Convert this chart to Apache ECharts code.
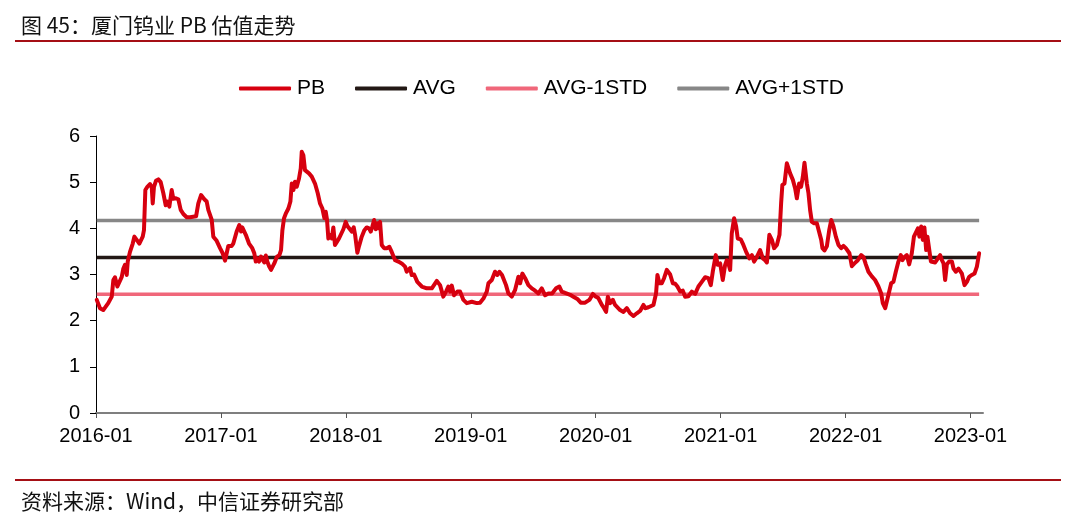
<!DOCTYPE html>
<html>
<head>
<meta charset="utf-8">
<script src="https://cdn.jsdelivr.net/npm/echarts@6/dist/echarts.min.js"></script>
<style>
html,body{margin:0;padding:0;background:#fff;}
#chart{width:1079px;height:522px;}
</style>
</head>
<body>
<div id="chart"></div>
<script>
// Time in decimal years
const years = [
2016.006,2016.032,2016.058,2016.098,2016.126,2016.139,2016.152,2016.171,2016.206,2016.219,
2016.232,2016.246,2016.254,2016.272,2016.294,2016.307,2016.326,2016.347,2016.374,2016.384,
2016.395,2016.411,2016.432,2016.446,2016.454,2016.464,2016.480,2016.499,2016.518,2016.539,
2016.558,2016.571,2016.587,2016.606,2016.619,2016.640,2016.659,2016.678,2016.699,2016.726,
2016.753,2016.801,2016.819,2016.841,2016.867,2016.886,2016.899,2016.913,2016.926,2016.939,
2016.966,2016.993,2017.014,2017.033,2017.046,2017.059,2017.086,2017.099,2017.126,2017.147,
2017.161,2017.171,2017.187,2017.199,2017.215,2017.225,2017.241,2017.251,2017.267,2017.279,
2017.295,2017.305,2017.321,2017.331,2017.347,2017.359,2017.371,2017.387,2017.401,2017.415,
2017.427,2017.447,2017.468,2017.481,2017.492,2017.505,2017.521,2017.540,2017.556,2017.567,
2017.580,2017.593,2017.607,2017.625,2017.639,2017.647,2017.660,2017.673,2017.687,2017.705,
2017.727,2017.753,2017.775,2017.793,2017.812,2017.828,2017.839,2017.849,2017.860,2017.873,
2017.887,2017.900,2017.913,2017.927,2017.945,2017.961,2017.980,2017.999,2018.012,2018.028,
2018.047,2018.063,2018.074,2018.092,2018.106,2018.127,2018.148,2018.167,2018.186,2018.199,
2018.212,2018.226,2018.239,2018.250,2018.260,2018.274,2018.287,2018.306,2018.327,2018.348,
2018.367,2018.394,2018.420,2018.447,2018.474,2018.487,2018.514,2018.527,2018.546,2018.572,
2018.608,2018.648,2018.688,2018.728,2018.754,2018.780,2018.802,2018.820,2018.834,2018.848,
2018.866,2018.893,2018.914,2018.941,2018.968,2019.008,2019.048,2019.074,2019.101,2019.128,
2019.141,2019.168,2019.194,2019.213,2019.229,2019.250,2019.266,2019.282,2019.301,2019.328,
2019.354,2019.381,2019.395,2019.413,2019.435,2019.461,2019.488,2019.515,2019.541,2019.568,
2019.595,2019.621,2019.651,2019.683,2019.709,2019.728,2019.755,2019.795,2019.821,2019.853,
2019.880,2019.915,2019.949,2019.977,2019.995,2020.021,2020.049,2020.067,2020.083,2020.097,
2020.115,2020.137,2020.155,2020.195,2020.222,2020.249,2020.275,2020.302,2020.329,2020.355,
2020.382,2020.395,2020.422,2020.462,2020.483,2020.494,2020.510,2020.529,2020.547,2020.569,
2020.596,2020.617,2020.636,2020.654,2020.676,2020.697,2020.716,2020.742,2020.769,2020.796,
2020.822,2020.849,2020.876,2020.902,2020.921,2020.937,2020.961,2020.977,2020.996,2021.017,
2021.036,2021.049,2021.062,2021.076,2021.089,2021.108,2021.124,2021.137,2021.161,2021.182,
2021.204,2021.230,2021.250,2021.268,2021.290,2021.316,2021.338,2021.356,2021.370,2021.390,
2021.410,2021.428,2021.450,2021.471,2021.484,2021.494,2021.511,2021.530,2021.556,2021.578,
2021.596,2021.610,2021.628,2021.644,2021.658,2021.671,2021.690,2021.703,2021.716,2021.730,
2021.748,2021.770,2021.805,2021.815,2021.831,2021.850,2021.869,2021.885,2021.903,2021.922,
2021.943,2021.965,2021.983,2022.002,2022.018,2022.031,2022.050,2022.071,2022.098,2022.125,
2022.143,2022.162,2022.183,2022.210,2022.236,2022.263,2022.285,2022.298,2022.317,2022.330,
2022.343,2022.365,2022.383,2022.402,2022.423,2022.442,2022.455,2022.471,2022.490,2022.509,
2022.530,2022.547,2022.563,2022.579,2022.591,2022.605,2022.618,2022.631,2022.645,2022.655,
2022.669,2022.683,2022.699,2022.717,2022.739,2022.757,2022.771,2022.784,2022.797,2022.811,
2022.829,2022.851,2022.864,2022.883,2022.904,2022.931,2022.952,2022.971,2022.989,2023.011,
2023.032,2023.051,2023.069
];
// PB values
const pb = [
2.45,2.27,2.23,2.38,2.52,2.88,2.94,2.74,2.95,3.13,
3.21,2.99,3.28,3.49,3.67,3.82,3.75,3.67,3.82,3.96,
4.83,4.90,4.96,4.90,4.54,4.90,5.03,5.06,5.00,4.76,
4.50,4.58,4.47,4.83,4.64,4.65,4.63,4.40,4.31,4.24,
4.24,4.26,4.54,4.72,4.63,4.58,4.40,4.40,4.19,3.82,
3.73,3.57,3.46,3.30,3.46,3.62,3.62,3.67,3.93,4.07,
3.93,4.02,4.00,3.86,3.88,3.67,3.70,3.57,3.46,3.28,
3.35,3.28,3.39,3.33,3.26,3.41,3.28,3.17,3.10,3.13,
3.24,3.38,3.42,3.53,3.96,4.22,4.33,4.43,4.58,4.97,
4.83,5.01,4.90,5.08,5.30,5.66,5.58,5.26,5.24,5.19,
5.12,4.97,4.76,4.54,4.43,4.22,4.36,4.19,3.78,3.86,
3.78,4.02,3.64,3.70,3.78,3.76,3.98,4.14,4.05,4.07,
3.93,4.02,3.86,3.47,3.62,3.82,3.96,4.02,4.00,3.93,
4.04,4.18,3.98,4.11,4.00,4.14,3.64,3.57,3.57,3.60,
3.49,3.31,3.28,3.24,3.17,3.06,3.14,2.99,3.00,2.84,
2.74,2.70,2.70,2.86,2.77,2.52,2.63,2.74,2.63,2.76,
2.55,2.63,2.63,2.45,2.38,2.41,2.38,2.39,2.48,2.63,
2.81,2.88,3.06,2.99,3.06,2.99,3.01,2.77,2.59,2.52,
2.66,2.95,2.81,3.02,2.92,2.77,2.70,2.65,2.59,2.70,
2.55,2.59,2.59,2.70,2.74,2.63,2.60,2.56,2.52,2.47,
2.39,2.39,2.45,2.58,2.53,2.49,2.34,2.27,2.19,2.52,
2.38,2.45,2.34,2.23,2.19,2.27,2.16,2.10,2.16,2.21,
2.34,2.27,2.29,2.34,2.59,2.99,2.81,2.81,2.92,3.10,
3.00,2.81,2.80,2.74,2.63,2.65,2.52,2.53,2.63,2.58,
2.74,2.84,2.94,2.92,2.77,3.06,3.42,3.21,3.24,2.88,
3.21,3.31,3.24,3.10,3.89,4.22,4.04,3.78,3.76,3.64,
3.49,3.35,3.42,3.28,3.38,3.53,3.35,3.31,3.26,3.86,
3.75,3.57,3.64,3.86,4.54,4.94,4.97,5.41,5.19,5.05,
4.87,4.65,4.97,4.90,5.12,5.42,4.97,4.76,4.40,4.14,
4.11,4.11,3.75,3.57,3.52,3.61,3.96,4.18,4.04,3.82,
3.64,3.57,3.62,3.57,3.60,3.46,3.18,3.24,3.31,3.42,
3.38,3.22,3.06,2.96,2.88,2.74,2.59,2.38,2.27,2.30,
2.56,2.81,2.84,3.06,3.28,3.42,3.31,3.38,3.42,3.22,
3.46,3.82,3.86,4.00,3.82,4.04,3.75,4.02,3.53,3.82,
3.86,3.28,3.31,3.26,3.35,3.42,3.31,3.24,2.88,3.22,
3.28,3.28,3.13,3.06,3.13,3.02,2.77,2.84,2.95,2.99,
3.02,3.17,3.46
];
const AVG = 3.37;
const AVG_M1 = 2.57;
const AVG_P1 = 4.17;
const seriesNames = ['PB', 'AVG', 'AVG-1STD', 'AVG+1STD'];
const yTicks = [0, 1, 2, 3, 4, 5, 6];
const titleText = '图 45：厦门钨业 PB 估值走势';
const sourceText = '资料来源：Wind，中信证券研究部';

const FONT = '"Liberation Sans", Arial, "Noto Sans CJK SC", sans-serif';
const pbData = years.map((t, i) => [t, pb[i]]);
const t0 = years[0], t1 = years[years.length - 1];
const flat = v => [[t0, v], [t1, v]];

const chart = echarts.init(document.getElementById('chart'), null, {renderer: 'canvas'});
chart.setOption({
  backgroundColor: '#fff',
  animation: false,
  textStyle: {fontFamily: FONT},
  title: [
    {text: titleText, left: 16, top: 10, textStyle: {fontSize: 21, fontWeight: 'normal', color: '#111', fontFamily: '"Noto Sans CJK SC", sans-serif'}},
    {text: sourceText, left: 16, top: 486, textStyle: {fontSize: 21, fontWeight: 'normal', color: '#111', fontFamily: '"Noto Sans CJK SC", sans-serif'}}
  ],
  graphic: [
    {type: 'rect', shape: {x: 15, y: 40, width: 1046, height: 2}, style: {fill: '#A50F15'}},
    {type: 'rect', shape: {x: 15, y: 479, width: 1046, height: 2}, style: {fill: '#A50F15'}}
  ],
  legend: {
    data: seriesNames,
    left: 234, top: 73,
    icon: 'roundRect',
    itemWidth: 52, itemHeight: 4, itemGap: 30,
    textStyle: {fontSize: 21, color: '#000', fontFamily: FONT, padding: [0, 0, 0, 1]}
  },
  grid: {left: 96, right: 96, top: 136, bottom: 109, containLabel: false},
  xAxis: {
    type: 'value', min: 2016, max: 2023.1, interval: 1,
    axisLine: {show: true, lineStyle: {color: '#7f7f7f', width: 2}},
    axisTick: {show: true, length: 5, lineStyle: {color: '#555', width: 1}},
    axisLabel: {
      fontSize: 20, color: '#000', margin: 13, fontFamily: FONT,
      showMaxLabel: false,
      formatter: v => Number.isInteger(v) ? (v + '-01') : ''
    },
    splitLine: {show: false}
  },
  yAxis: {
    type: 'value', min: yTicks[0], max: yTicks[yTicks.length - 1], interval: 1,
    axisLine: {show: true, lineStyle: {color: '#000', width: 1}},
    axisTick: {show: true, length: 6, lineStyle: {color: '#000', width: 1}},
    axisLabel: {fontSize: 20, color: '#000', margin: 16, fontFamily: FONT},
    splitLine: {show: false}
  },
  series: [
    {name: 'PB', type: 'line', data: pbData, showSymbol: false, symbol: 'none', z: 5,
     lineStyle: {color: '#D7000F', width: 4, join: 'round', cap: 'round'}, itemStyle: {color: '#D7000F'}},
    {name: 'AVG', type: 'line', data: flat(AVG), showSymbol: false, symbol: 'none', z: 3,
     lineStyle: {color: '#231815', width: 3.5}, itemStyle: {color: '#231815'}},
    {name: 'AVG-1STD', type: 'line', data: flat(AVG_M1), showSymbol: false, symbol: 'none', z: 3,
     lineStyle: {color: '#F0677A', width: 3.5}, itemStyle: {color: '#F0677A'}},
    {name: 'AVG+1STD', type: 'line', data: flat(AVG_P1), showSymbol: false, symbol: 'none', z: 3,
     lineStyle: {color: '#878787', width: 3.5}, itemStyle: {color: '#878787'}}
  ]
});
</script>
</body>
</html>
